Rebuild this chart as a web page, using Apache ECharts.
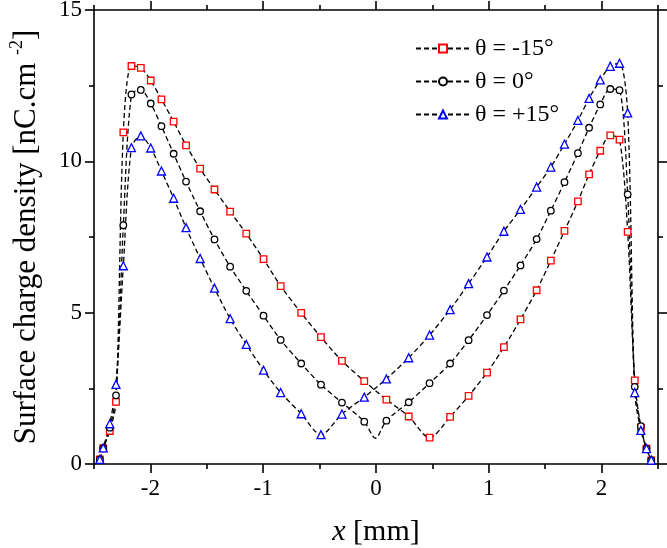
<!DOCTYPE html>
<html>
<head>
<meta charset="utf-8">
<script src="https://cdn.jsdelivr.net/npm/echarts@6/dist/echarts.min.js"></script>
<style>html,body{margin:0;padding:0;background:#fff}#c{width:667px;height:548px}</style>
</head>
<body>
<div id="c"></div>
<script>
// Common x positions (mm)
const xGrid = [-2.448, -2.418, -2.36, -2.305, -2.24, -2.168, -2.085, -1.997, -1.902, -1.794, -1.684, -1.559, -1.432, -1.293, -1.150, -0.997, -0.845, -0.663, -0.488, -0.302, -0.104, 0.092, 0.29, 0.475, 0.657, 0.821, 0.984, 1.134, 1.281, 1.424, 1.55, 1.671, 1.79, 1.889, 1.988, 2.077, 2.159, 2.231, 2.294, 2.348, 2.398, 2.44];
// theta = -15
const yRed = [0.15, 0.52, 1.09, 2.05, 10.96, 13.15, 13.09, 12.67, 12.05, 11.31, 10.53, 9.76, 9.07, 8.34, 7.61, 6.77, 5.88, 4.99, 4.19, 3.41, 2.74, 2.13, 1.57, 0.87, 1.56, 2.25, 3.02, 3.86, 4.78, 5.74, 6.72, 7.70, 8.68, 9.57, 10.35, 10.86, 10.72, 7.67, 2.76, 1.2, 0.51, 0.12];
// theta = 0
const yBlack = [0.15, 0.52, 1.2, 2.27, 7.89, 12.21, 12.36, 11.91, 11.16, 10.25, 9.33, 8.35, 7.42, 6.52, 5.72, 4.90, 4.10, 3.32, 2.62, 2.03, 1.40, 1.43, 2.04, 2.67, 3.32, 4.09, 4.92, 5.73, 6.56, 7.43, 8.37, 9.31, 10.27, 11.11, 11.88, 12.39, 12.35, 8.91, 2.55, 1.25, 0.51, 0.13];
// unmarked vertex of the theta = 0 curve
const blackVertex = [-0.005, 0.85];
// theta = +15
const yBlue = [0.15, 0.53, 1.33, 2.63, 6.55, 10.45, 10.84, 10.44, 9.68, 8.78, 7.81, 6.79, 5.81, 4.80, 3.95, 3.10, 2.36, 1.66, 0.97, 1.65, 2.21, 2.81, 3.51, 4.26, 5.10, 5.96, 6.84, 7.69, 8.41, 9.15, 9.81, 10.57, 11.35, 12.08, 12.69, 13.14, 13.24, 11.6, 2.36, 1.11, 0.51, 0.13];

const seriesNames = ['θ = -15°', 'θ = 0°', 'θ = +15°'];
const xMajor = [-2, -1, 0, 1, 2];
const xMinor = [-2.5, -1.5, -0.5, 0.5, 1.5, 2.5];

const FONT = "'Liberation Serif', 'Times New Roman', Times, serif";

function pairs(xs, ys) { return xs.map((x, i) => [x, ys[i]]); }
const blackData = pairs(xGrid, yBlack);
let insertAt = blackData.findIndex(p => p[0] > blackVertex[0]);
blackData.splice(insertAt, 0, { value: blackVertex, symbol: 'none' });

const lineStyle = { color: '#000', type: [5, 3], width: 1.3 };
function mkSeries(name, data, symbol, size, color) {
  return {
    name, type: 'line', data, symbol, symbolSize: size, smooth: 0.3,
    showAllSymbol: true,
    lineStyle,
    itemStyle: { color: '#fff', borderColor: color, borderWidth: 1.3 },
    emphasis: { disabled: true },
    xAxisIndex: 0, yAxisIndex: 0
  };
}

const axisLineStyle = { color: '#000', width: 1.6 };
function xAx(pos, main) {
  return [
    {
      type: 'value', min: -2.5, max: 2.5, position: pos,
      axisLine: { show: true, onZero: false, lineStyle: axisLineStyle },
      axisTick: { show: true, customValues: xMajor, length: 9, lineStyle: axisLineStyle },
      axisLabel: main ? { show: true, customValues: xMajor, fontSize: 23, fontFamily: FONT, color: '#000', margin: 13 } : { show: false },
      splitLine: { show: false },
      name: main ? '{i|x} [mm]' : '',
      nameLocation: 'middle', nameGap: 53,
      nameTextStyle: { fontSize: 30, fontFamily: FONT, color: '#000', rich: { i: { fontStyle: 'italic', fontSize: 30, fontFamily: FONT, color: '#000' } } }
    },
    {
      type: 'value', min: -2.5, max: 2.5, position: pos,
      axisLine: { show: false, onZero: false },
      axisTick: { show: true, customValues: xMinor, length: 5, lineStyle: axisLineStyle },
      axisLabel: { show: false },
      splitLine: { show: false }
    }
  ];
}
function yAx(pos, main) {
  return {
    type: 'value', min: 0, max: 15, interval: 5, position: pos,
    axisLine: { show: true, onZero: false, lineStyle: axisLineStyle },
    axisTick: { show: true, length: 9, lineStyle: axisLineStyle },
    minorTick: { show: true, splitNumber: 2, length: 5, lineStyle: axisLineStyle },
    axisLabel: main ? { show: true, fontSize: 23, fontFamily: FONT, color: '#000', margin: 12 } : { show: false },
    splitLine: { show: false }, minorSplitLine: { show: false },
    name: main ? '{a|Surface charge density [nC.cm }{s|-2}{a|]}' : '',
    nameLocation: 'middle', nameGap: 52,
    nameTextStyle: {
      color: '#000',
      rich: {
        a: { fontSize: 31, fontFamily: FONT, color: '#000', lineHeight: 34, verticalAlign: 'bottom' },
        s: { fontSize: 18, fontFamily: FONT, color: '#000', lineHeight: 34, verticalAlign: 'top' }
      }
    }
  };
}

const chart = echarts.init(document.getElementById('c'), null, { renderer: 'canvas' });
chart.setOption({
  animation: false,
  backgroundColor: '#fff',
  grid: { left: 94, right: 9, top: 10, bottom: 84, containLabel: false, outerBoundsMode: 'none' },
  legend: {
    data: seriesNames, orient: 'vertical', left: 410, top: 31,
    itemWidth: 54, itemHeight: 10, itemGap: 8,
    textStyle: { fontSize: 24, fontFamily: FONT, color: '#000', lineHeight: 25 },
    selectedMode: false
  },
  xAxis: [...xAx('bottom', true), ...xAx('top', false)],
  yAxis: [yAx('left', true), yAx('right', false)],
  series: [
    mkSeries(seriesNames[0], pairs(xGrid, yRed), 'rect', 6.5, '#ff0000'),
    mkSeries(seriesNames[1], blackData, 'circle', 6.5, '#000000'),
    mkSeries(seriesNames[2], pairs(xGrid, yBlue), 'triangle', 8, '#0000ff')
  ]
});
</script>
</body>
</html>
